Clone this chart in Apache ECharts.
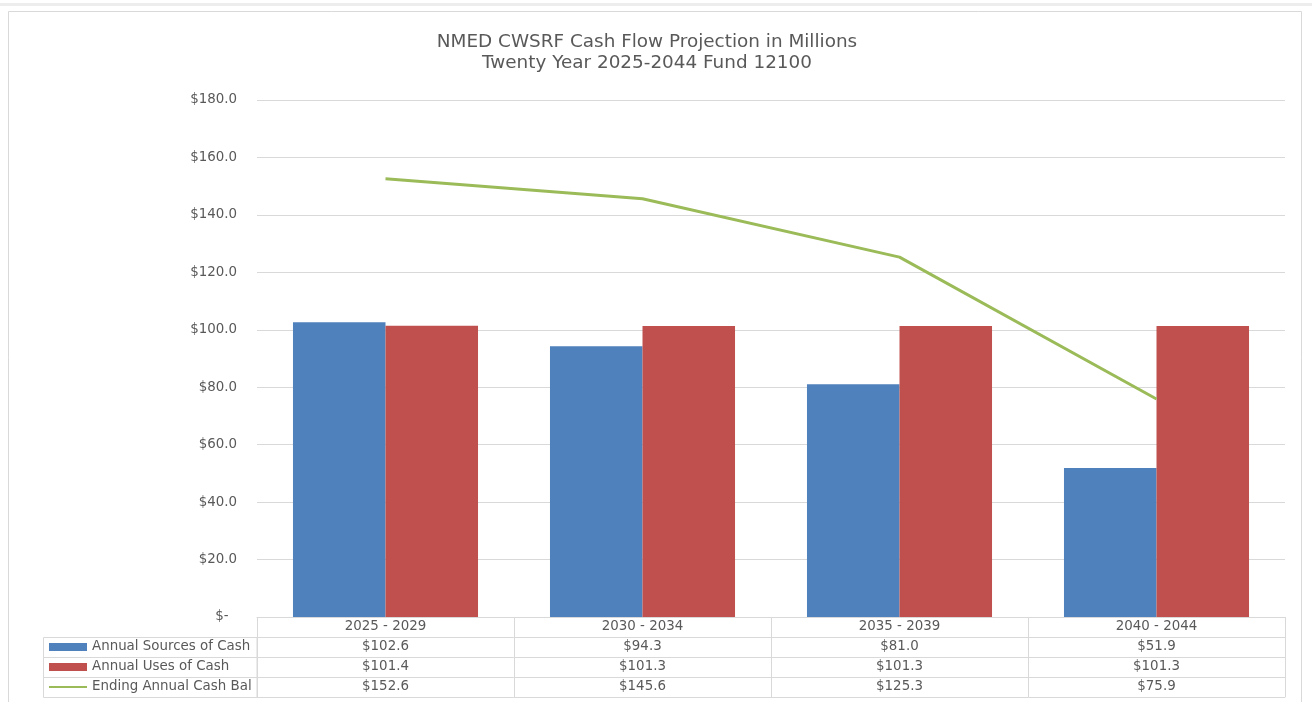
<!DOCTYPE html>
<html>
<head>
    <meta charset="utf-8">
    <title>NMED CWSRF Cash Flow</title>
    <script src="https://cdn.jsdelivr.net/npm/echarts@6/dist/echarts.min.js"></script>
    <style>
        html, body { margin: 0; padding: 0; background: #fff; }
        #chart { width: 1312px; height: 702px; }
    </style>
</head>
<body>
<div id="chart"></div>
<script type="text/javascript">
    // data
    var periods = ['2025 - 2029', '2030 - 2034', '2035 - 2039', '2040 - 2044'];
    var sources = [102.6, 94.3, 81.0, 51.9];
    var uses = [101.4, 101.3, 101.3, 101.3];
    var endBal = [152.6, 145.6, 125.3, 75.9];
    var seriesNames = ['Annual Sources of Cash', 'Annual Uses of Cash', 'Ending Annual Cash Bal'];

    var txt = '#595959';
    var rule = '#d9d9d9';
    var font = '"DejaVu Sans", "Open Sans", sans-serif';
    var fs = 13.4;

    function money(v) {
        return '$' + v.toFixed(1);
    }

    // one category axis per table row, stacked under the plot
    function tableAxis(offset, values) {
        return {
            type: 'category',
            data: periods,
            position: 'bottom',
            offset: offset,
            axisLine: { show: true, lineStyle: { color: rule } },
            axisTick: { show: values !== null, length: 20, lineStyle: { color: rule } },
            axisLabel: {
                show: values !== null,
                margin: 3,
                color: txt,
                fontSize: fs,
                fontFamily: font,
                formatter: function (v, i) {
                    return values ? money(values[i]) : v;
                }
            }
        };
    }

    var chart = echarts.init(document.getElementById('chart'));

    var catAxis = tableAxis(0, null);
    catAxis.axisTick.show = true;
    catAxis.axisLabel.show = true;
    catAxis.axisLabel.formatter = null;

    chart.setOption({
        backgroundColor: '#fff',
        animation: false,
        title: {
            text: 'NMED CWSRF Cash Flow Projection in Millions\nTwenty Year 2025-2044 Fund 12100',
            left: 642,
            top: 27,
            textAlign: 'center',
            textStyle: { color: txt, fontSize: 18.4, fontWeight: 'normal', fontFamily: font, lineHeight: 21 }
        },
        legend: {
            data: [
                { name: seriesNames[0], icon: 'rect' },
                { name: seriesNames[1], icon: 'rect' },
                { name: seriesNames[2], itemStyle: { opacity: 0 } }
            ],
            orient: 'vertical',
            left: 48,
            top: 637,
            padding: 0,
            itemGap: 0,
            itemWidth: 38,
            itemHeight: 8,
            textStyle: { color: txt, fontSize: fs, fontFamily: font, lineHeight: 20 },
            selectedMode: false
        },
        grid: { left: 257, right: 27, top: 100, bottom: 85 },
        xAxis: [
            catAxis,
            tableAxis(20, sources),
            tableAxis(40, uses),
            tableAxis(60, endBal),
            tableAxis(80, null)
        ],
        yAxis: {
            type: 'value',
            min: 0,
            max: 180,
            interval: 20,
            axisLine: { show: false },
            axisTick: { show: false },
            splitLine: { lineStyle: { color: rule } },
            axisLabel: {
                margin: 20,
                color: txt,
                fontSize: fs,
                fontFamily: font,
                formatter: function (v) {
                    return v === 0 ? '$-  ' : money(v);
                }
            }
        },
        series: [
            {
                name: seriesNames[2],
                type: 'line',
                data: endBal,
                symbol: 'none',
                lineStyle: { color: '#9bbb59', width: 3 },
                itemStyle: { color: '#9bbb59' }
            },
            {
                name: seriesNames[0],
                type: 'bar',
                data: sources,
                barGap: '0%',
                barCategoryGap: '28%',
                itemStyle: { color: '#4f81bd' }
            },
            {
                name: seriesNames[1],
                type: 'bar',
                data: uses,
                itemStyle: { color: '#c0504d' }
            }
        ],
        graphic: [
            { type: 'rect', shape: { x: 0, y: 3, width: 1312, height: 3 }, style: { fill: '#ededed' } },
            { type: 'rect', shape: { x: 8.5, y: 11.5, width: 1293, height: 700 }, style: { fill: 'none', stroke: rule, lineWidth: 1 } },
            { type: 'rect', shape: { x: 43.5, y: 637.5, width: 213.5, height: 60 }, style: { fill: 'none', stroke: rule, lineWidth: 1 } },
            { type: 'line', shape: { x1: 43.5, y1: 657.5, x2: 257, y2: 657.5 }, style: { stroke: rule, lineWidth: 1 } },
            { type: 'line', shape: { x1: 43.5, y1: 677.5, x2: 257, y2: 677.5 }, style: { stroke: rule, lineWidth: 1 } }
        ]
    });
</script>
</body>
</html>
